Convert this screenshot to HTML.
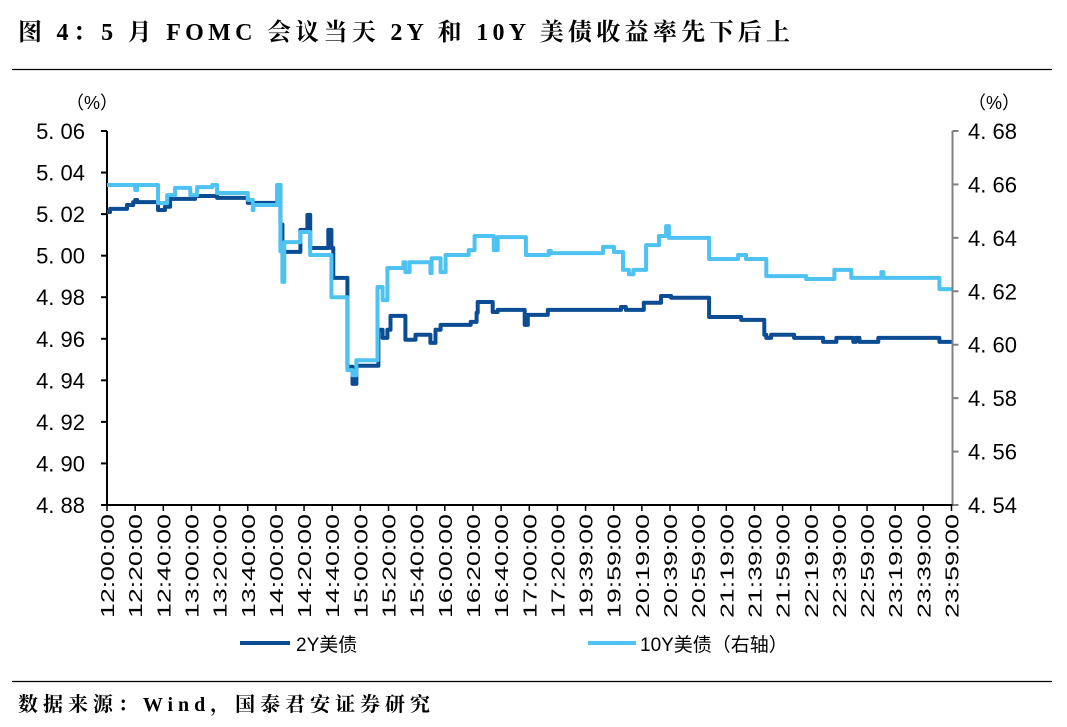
<!DOCTYPE html>
<html><head><meta charset="utf-8"><style>
body{margin:0;background:#fff;}
svg{display:block;font-family:"Liberation Sans","Noto Sans CJK SC",sans-serif;}
</style></head><body>
<svg width="1067" height="727" viewBox="0 0 1067 727">
<text x="18" y="40" font-family="Liberation Serif,'Noto Serif CJK SC',serif" font-weight="bold" font-size="24" textLength="772" lengthAdjust="spacing">图 4：5 月  FOMC 会议当天 2Y 和 10Y 美债收益率先下后上</text>
<line x1="12" y1="69.5" x2="1052" y2="69.5" stroke="#000" stroke-width="1.2"/>
<line x1="12" y1="681.5" x2="1052" y2="681.5" stroke="#000" stroke-width="1.2"/>
<text x="18" y="711" font-family="Liberation Serif,'Noto Serif CJK SC',serif" font-weight="bold" font-size="20" textLength="412" lengthAdjust="spacing">数据来源：Wind，国泰君安证券研究</text>
<text x="66" y="109" font-size="18">（%）</text>
<text x="968" y="109" font-size="18">（%）</text>
<g id="axes"></g>
<g id="series"></g>
<g>
<line x1="240" y1="643" x2="290" y2="643" stroke="#0b4c92" stroke-width="4"/>
<text x="296" y="651" font-size="19">2Y美债</text>
<line x1="588" y1="643" x2="636" y2="643" stroke="#4ec2f0" stroke-width="4"/>
<text x="640" y="651" font-size="19">10Y美债（右轴）</text>
</g>
</svg>
<script>
const xLabels=["12:00:00","12:20:00","12:40:00","13:00:00","13:20:00","13:40:00","14:00:00","14:20:00","14:40:00","15:00:00","15:20:00","15:40:00","16:00:00","16:20:00","16:40:00","17:00:00","17:20:00","19:39:00","19:59:00","20:19:00","20:39:00","20:59:00","21:19:00","21:39:00","21:59:00","22:19:00","22:39:00","22:59:00","23:19:00","23:39:00","23:59:00"];
const leftTicks=[4.88,4.90,4.92,4.94,4.96,4.98,5.00,5.02,5.04,5.06];
const rightTicks=[4.54,4.56,4.58,4.60,4.62,4.64,4.66,4.68];
const t2y=[0,0.11,0.71,0.93,1.0,1.07,1.81,2.06,2.24,3.13,3.91,5.0,6.01,6.05,6.16,6.23,6.87,7.12,7.22,7.86,7.97,8.04,8.54,8.72,8.86,9.64,9.79,9.96,10.07,10.6,10.96,11.49,11.67,11.85,12.92,13.13,13.17,13.7,13.88,14.84,14.95,15.66,18.26,18.43,19.07,19.68,20.04,21.39,22.53,23.35,23.42,23.59,24.41,25.44,25.91,26.51,26.6,26.73,27.4,29.57,30];
const v2y=[5.021,5.0225,5.0244,5.0258,5.0268,5.0258,5.022,5.0235,5.0273,5.0287,5.0278,5.0254,5.0254,5.034,5.015,5.0018,5.0124,5.0196,5.0037,5.0124,5.0037,4.9893,4.9465,4.9383,4.947,4.9643,4.9604,4.9643,4.971,4.9595,4.9619,4.958,4.9643,4.9667,4.9681,4.9725,4.9777,4.9729,4.9739,4.9667,4.9715,4.9739,4.9753,4.9739,4.9773,4.9806,4.9797,4.9705,4.9691,4.9619,4.9604,4.9619,4.9604,4.9585,4.9604,4.9585,4.9604,4.9585,4.9604,4.9585,4.9585];
const t10y=[0,1.0,1.07,1.81,2.14,2.42,2.96,3.2,3.74,3.91,5.0,5.18,5.2,6.01,6.05,6.16,6.23,6.3,6.87,7.22,7.97,8.54,8.72,8.86,9.61,9.79,9.96,10.53,10.6,10.75,11.49,11.53,11.85,12.03,12.85,13.06,13.74,13.88,14.88,15.69,15.77,17.62,18.01,18.33,18.54,18.7,19.15,19.61,19.86,19.96,21.39,22.42,22.7,23.42,24.48,24.84,25.84,26.44,27.51,27.58,29.57,30];
const v10y=[4.6598,4.6579,4.6598,4.653,4.656,4.6587,4.656,4.659,4.6598,4.6568,4.6542,4.6504,4.6523,4.6523,4.6598,4.635,4.6235,4.6384,4.6422,4.6336,4.6178,4.5905,4.5886,4.5942,4.6216,4.6167,4.6287,4.6309,4.6272,4.6309,4.6268,4.6324,4.6272,4.6336,4.6354,4.6407,4.6354,4.6403,4.6336,4.6351,4.6343,4.6366,4.6347,4.628,4.6264,4.628,4.6373,4.6407,4.6444,4.64,4.6321,4.6336,4.6321,4.6257,4.6257,4.6246,4.628,4.625,4.6272,4.625,4.6208,4.6208];

const NS="http://www.w3.org/2000/svg";
const X0=107,XS=28.15,YT=131,YB=505;
const xAt=i=>X0+i*XS;
const yL=v=>YB-(v-4.88)/(5.06-4.88)*(YB-YT);
const yR=v=>YB-(v-4.54)/(4.68-4.54)*(YB-YT);
const XR=xAt(30)+1;
const axes=document.getElementById('axes'),series=document.getElementById('series');
function mk(tag,attrs,parent){const e=document.createElementNS(NS,tag);for(const k in attrs)e.setAttribute(k,attrs[k]);parent.appendChild(e);return e;}

let e=mk('line',{x1:X0,y1:YT,x2:X0,y2:YB,stroke:'#000','stroke-width':2},axes);


e=mk('line',{x1:XR,y1:YT,x2:XR,y2:YB,stroke:'#808080','stroke-width':2},axes);


e=mk('line',{x1:X0,y1:YB,x2:XR,y2:YB,stroke:'#000','stroke-width':2},axes);



leftTicks.forEach(v=>{
 const y=yL(v);
 let t=mk('line',{x1:X0-6,y1:y,x2:X0,y2:y,stroke:'#000','stroke-width':2},axes);
 
 
 let l=mk('text',{x:85,y:y+8,'text-anchor':'end','font-size':22},axes);
 l.textContent=v.toFixed(2).replace('.','. ');
 
 
});
rightTicks.forEach(v=>{
 const y=yR(v);
 let t=mk('line',{x1:XR,y1:y,x2:XR+6,y2:y,stroke:'#808080','stroke-width':2},axes);
 
 
 let l=mk('text',{x:968,y:y+8,'font-size':22},axes);
 l.textContent=v.toFixed(2).replace('.','. ');
 
 
});
xLabels.forEach((lab,i)=>{
 const x=xAt(i);
 let t=mk('line',{x1:x,y1:YB,x2:x,y2:YB+6,stroke:'#000','stroke-width':1.5},axes);
 
 
 let l=mk('text',{x:0,y:0,'text-anchor':'end','font-size':18,textLength:104,lengthAdjust:'spacingAndGlyphs',transform:`translate(${x+7},${YB+9}) rotate(-90)`},axes);
 l.textContent=lab;
 
 
});
function stepPath(ts,vs,yf){let d='';for(let i=0;i<ts.length;i++){const x=xAt(ts[i]).toFixed(1),y=yf(vs[i]).toFixed(1);if(i===0)d+=`M${x},${y}`;else{d+=`H${x}V${y}`;}}return d;}
let p=mk('path',{d:stepPath(t10y,v10y,yR),fill:'none',stroke:'#4ec2f0','stroke-width':4,'stroke-linejoin':'round'},series);


p=mk('path',{d:stepPath(t2y,v2y,yL),fill:'none',stroke:'#0b4c92','stroke-width':4,'stroke-linejoin':'round'},series);


series.appendChild(series.firstChild);
</script>
</body></html>
